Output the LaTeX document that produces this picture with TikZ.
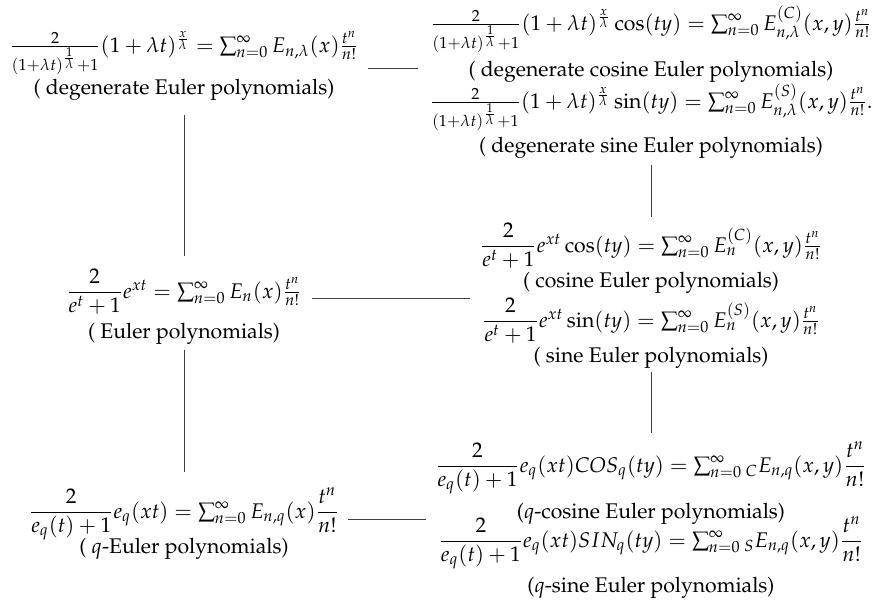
\documentclass[tikz,border=0pt]{standalone}
\usepackage[T1]{fontenc}
\usepackage{mathpazo}
\usepackage{amsmath}
\begin{document}
\begin{tikzpicture}[x=0.5pt,y=-0.5pt,
  txt/.style={anchor=base, inner sep=0pt, font=\fontsize{10.6}{13}\selectfont},
  conn/.style={line width=0.5pt, draw=black!75}]
\useasboundingbox (0,0) rectangle (878,601);
% left column
\node[txt] (degF) at (184,52) {$\frac{2}{(1+\lambda t)^{\frac{1}{\lambda}}+1}(1+\lambda t)^{\frac{x}{\lambda}} = \sum_{n=0}^{\infty} E_{n,\lambda}(x)\frac{t^n}{n!}$};
\node[txt] (degL) at (184,94) {( degenerate Euler polynomials)};
\node[txt] (eF) at (184,298) {$\dfrac{2}{e^t+1}e^{xt} = \sum_{n=0}^{\infty} E_n(x)\frac{t^n}{n!}$};
\node[txt] (eL) at (184,338) {( Euler polynomials)};
\node[txt] (qF) at (184,518) {$\dfrac{2}{e_q(t)+1}e_q(xt) = \sum_{n=0}^{\infty} E_{n,q}(x)\dfrac{t^n}{n!}$};
\node[txt] (qL) at (184,553) {( $q$-Euler polynomials)};
% right column
\node[txt] (dcosF) at (651,30) {$\frac{2}{(1+\lambda t)^{\frac{1}{\lambda}}+1}(1+\lambda t)^{\frac{x}{\lambda}}\cos(ty) = \sum_{n=0}^{\infty} E^{(C)}_{n,\lambda}(x,y)\frac{t^n}{n!}$};
\node[txt] (dcosL) at (651,76) {( degenerate cosine Euler polynomials)};
\node[txt] (dsinF) at (651,108) {$\frac{2}{(1+\lambda t)^{\frac{1}{\lambda}}+1}(1+\lambda t)^{\frac{x}{\lambda}}\sin(ty) = \sum_{n=0}^{\infty} E^{(S)}_{n,\lambda}(x,y)\frac{t^n}{n!}.$};
\node[txt] (dsinL) at (651,152) {( degenerate sine Euler polynomials)};
\node[txt] (cosF) at (651,252) {$\dfrac{2}{e^t+1}e^{xt}\cos(ty) = \sum_{n=0}^{\infty} E^{(C)}_{n}(x,y)\frac{t^n}{n!}$};
\node[txt] (cosL) at (651,287) {( cosine Euler polynomials)};
\node[txt] (sinF) at (651,327) {$\dfrac{2}{e^t+1}e^{xt}\sin(ty) = \sum_{n=0}^{\infty} E^{(S)}_{n}(x,y)\frac{t^n}{n!}$};
\node[txt] (sinL) at (651,362) {( sine Euler polynomials)};
\node[txt] (qcosF) at (651,472) {$\dfrac{2}{e_q(t)+1}e_q(xt)COS_q(ty) = \sum_{n=0}^{\infty} {}_{C}E_{n,q}(x,y)\dfrac{t^n}{n!}$};
\node[txt] (qcosL) at (651,518) {($q$-cosine Euler polynomials)};
\node[txt] (qsinF) at (651,547) {$\dfrac{2}{e_q(t)+1}e_q(xt)SIN_q(ty) = \sum_{n=0}^{\infty} {}_{S}E_{n,q}(x,y)\dfrac{t^n}{n!}$};
\node[txt] (qsinL) at (651,592) {($q$-sine Euler polynomials)};
% connector end points
\coordinate (h1a) at (368,68); \coordinate (h1b) at (418,68);
\coordinate (h2a) at (312,298); \coordinate (h2b) at (470,298);
\coordinate (h3a) at (348,519); \coordinate (h3b) at (426,519);
\coordinate (v1a) at (184,115); \coordinate (v1b) at (184,256);
\coordinate (v2a) at (184,350); \coordinate (v2b) at (184,472);
\coordinate (v3a) at (651,165); \coordinate (v3b) at (651,217);
\coordinate (v4a) at (651,372); \coordinate (v4b) at (651,433);
\draw[conn] (h1a) -- (h1b);
\draw[conn] (h2a) -- (h2b);
\draw[conn] (h3a) -- (h3b);
\draw[conn] (v1a) -- (v1b);
\draw[conn] (v2a) -- (v2b);
\draw[conn] (v3a) -- (v3b);
\draw[conn] (v4a) -- (v4b);
\end{tikzpicture}
\end{document}
